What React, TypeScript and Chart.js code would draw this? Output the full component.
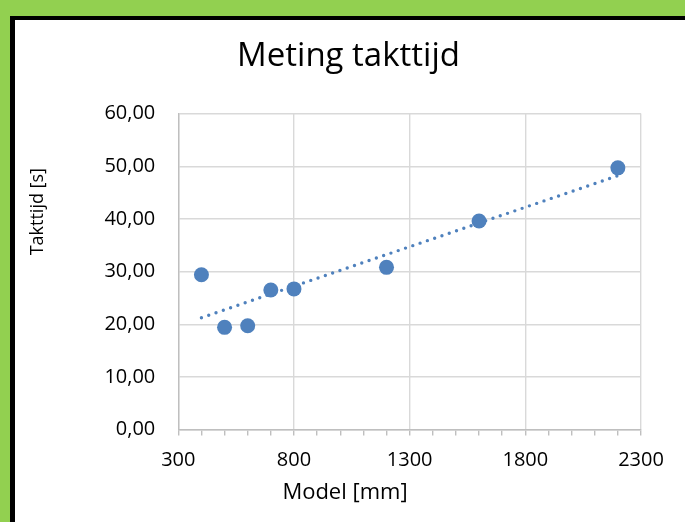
import React, { useEffect, useRef } from "react";
import { Chart, registerables } from "chart.js";

Chart.register(...registerables);

const modelMm: number[] = [400, 500, 600, 700, 800, 1200, 1600, 2200];
const takttijdS: number[] = [29.4, 19.4, 19.7, 26.5, 26.7, 30.8, 39.6, 49.7];
const xTickMin = 300;
const xTickMax = 2300;
const yTickMin = 0;
const yTickMax = 60;
const chartTitle = "Meting takttijd";
const xTitleText = "Model [mm]";
const yTitleText = "Takttijd [s]";

function linearFit(xs: number[], ys: number[]) {
  const n = xs.length;
  const mx = xs.reduce((a, b) => a + b, 0) / n;
  const my = ys.reduce((a, b) => a + b, 0) / n;
  let sxy = 0;
  let sxx = 0;
  for (let i = 0; i < n; i++) {
    sxy += (xs[i] - mx) * (ys[i] - my);
    sxx += (xs[i] - mx) * (xs[i] - mx);
  }
  const slope = sxy / sxx;
  return { slope, intercept: my - slope * mx };
}

const axisTitlesPlugin = {
  id: "axisTitlesOffset",
  afterDraw(chart: any) {
    const ctx = chart.ctx;
    ctx.save();
    ctx.fillStyle = "#000";
    ctx.textAlign = "center";
    ctx.textBaseline = "middle";
    ctx.font = "22px 'Open Sans'";
    ctx.fillText(xTitleText, 330, 472.8);
    ctx.translate(23, 191.7);
    ctx.rotate(-Math.PI / 2);
    ctx.font = "18px 'Open Sans'";
    ctx.fillText(yTitleText, 0, 0);
    ctx.restore();
  },
};

export default function App() {
  const ref = useRef<HTMLCanvasElement | null>(null);

  useEffect(() => {
    if (!ref.current) return;
    const fit = linearFit(modelMm, takttijdS);
    const xMin = Math.min(...modelMm);
    const xMax = Math.max(...modelMm);
    const trend = [
      { x: xMin, y: fit.intercept + fit.slope * xMin },
      { x: xMax, y: fit.intercept + fit.slope * xMax },
    ];
    const blue = "#4F81BD";
    const chart = new Chart(ref.current, {
      type: "scatter",
      data: {
        datasets: [
          {
            label: "Takttijd",
            data: modelMm.map((x, i) => ({ x, y: takttijdS[i] })),
            backgroundColor: blue,
            borderColor: blue,
            pointRadius: 7.5,
            pointBorderWidth: 0,
            order: 1,
          },
          {
            label: "Trend",
            data: trend,
            showLine: true,
            borderColor: blue,
            borderWidth: 3.4,
            borderDash: [0, 7.7],
            borderCapStyle: "round",
            pointRadius: 0,
            order: 2,
          } as any,
        ],
      },
      options: {
        animation: false,
        responsive: false,
        maintainAspectRatio: false,
        layout: { padding: { left: 41, right: 44 } },
        plugins: {
          legend: { display: false },
          tooltip: { enabled: false },
          title: {
            display: true,
            text: chartTitle,
            color: "#000",
            font: { family: "'Open Sans'", size: 33, weight: "normal" },
            padding: { top: 17, bottom: 37 },
          },
        },
        scales: {
          x: {
            type: "linear",
            min: xTickMin,
            max: xTickMax,
            afterFit: (s: any) => {
              s.height = 92.5;
            },
            border: { color: "#bfbfbf", width: 1.4 },
            grid: {
              color: (ctx: any) =>
                ctx.tick && (ctx.tick.value - xTickMin) % 500 === 0 ? "#d9d9d9" : "rgba(0,0,0,0)",
              tickColor: "#bfbfbf",
              lineWidth: 1.4,
              tickLength: 6,
              drawTicks: true,
            },
            ticks: {
              stepSize: 100,
              autoSkip: false,
              maxRotation: 0,
              padding: 13,
              color: "#000",
              font: { family: "'Open Sans'", size: 20 },
              callback: (v: any) => ((Number(v) - xTickMin) % 500 === 0 ? String(v) : ""),
            },
          },
          y: {
            type: "linear",
            min: yTickMin,
            max: yTickMax,
            afterFit: (s: any) => {
              s.width = 122.3;
            },
            border: { color: "#bfbfbf", width: 1.4 },
            grid: { color: "#d9d9d9", lineWidth: 1.4, drawTicks: false },
            ticks: {
              stepSize: 10,
              padding: 23,
              color: "#000",
              font: { family: "'Open Sans'", size: 20 },
              callback: (v: any) => Number(v).toFixed(2).replace(".", ","),
            },
          },
        },
      },
      plugins: [axisTitlesPlugin],
    });
    return () => chart.destroy();
  }, []);

  return (
    <div
      style={{
        position: "fixed",
        left: 0,
        top: 0,
        width: 685,
        height: 522,
        background: "#92D050",
        overflow: "hidden",
      }}
    >
      <div
        style={{
          position: "absolute",
          left: 10,
          top: 16,
          width: 680,
          height: 520,
          background: "#fff",
          borderLeft: "5px solid #000",
          borderTop: "4px solid #000",
        }}
      >
        <canvas ref={ref} width={670} height={502} style={{ display: "block" }} />
      </div>
    </div>
  );
}
